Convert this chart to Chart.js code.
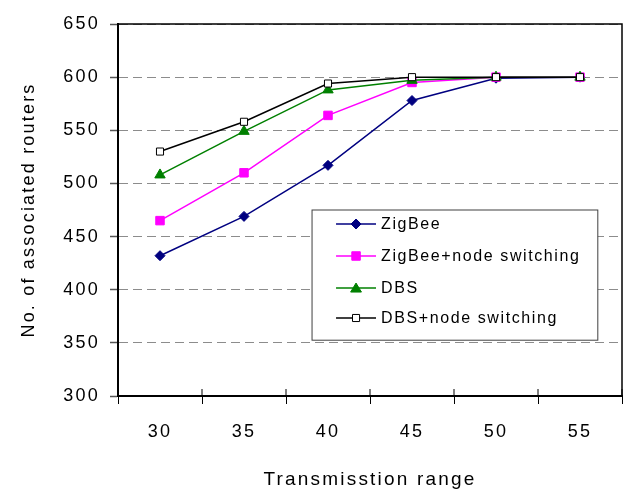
<!DOCTYPE html>
<html>
<head>
<meta charset="utf-8">
<script src="https://cdn.jsdelivr.net/npm/chart.js@4.4.1/dist/chart.umd.min.js"></script>
<style>
    html, body { margin: 0; padding: 0; background: #fff; }
    #wrap { width: 629px; height: 496px; }
</style>
</head>
<body>
<div id="wrap"><canvas id="chart"></canvas></div>
<script>
const ranges = ['30', '35', '40', '45', '50', '55'];
const zigbee = [432, 469, 517, 578, 599, 600];
const zigbeeSwitching = [465, 510, 564, 595, 600, 600];
const dbs = [508, 549, 588, 597, 600, 600];
const dbsSwitching = [530, 558, 594, 600, 600, 600];
const yTicks = [300, 350, 400, 450, 500, 550, 600, 650];

const FONT = "'Liberation Sans', Arial, sans-serif";

// spacing like the wide japanese font of the original
const spacingPlugin = {
    id: 'spacing',
    beforeLayout(chart) { chart.ctx.letterSpacing = '2.2px'; },
    beforeDraw(chart) { chart.ctx.letterSpacing = '2.2px'; }
};

const framePlugin = {
    id: 'frame',
    afterDraw(chart) {
        const ctx = chart.ctx;
        const a = chart.chartArea;
        const xs = chart.scales.x;
        ctx.save();
        ctx.strokeStyle = '#000';
        ctx.lineWidth = 1.5;
        ctx.strokeRect(a.left, a.top, a.right - a.left, a.bottom - a.top);
        // x ticks cross the axis a little
        const step = xs.getPixelForValue(1) - xs.getPixelForValue(0);
        ctx.lineWidth = 1;
        for (let i = 0; i <= ranges.length; i++) {
            const x = xs.getPixelForValue(0) - step / 2 + i * step;
            ctx.beginPath();
            ctx.moveTo(x, a.bottom);
            ctx.lineTo(x, a.bottom - 7);
            ctx.stroke();
        }
        ctx.restore();
    }
};

const legendItems = [
    { text: 'ZigBee', color: '#000080', style: 'rectRot', fill: '#000080', r: 5 },
    { text: 'ZigBee+node switching', color: '#FF00FF', style: 'rect', fill: '#FF00FF', r: 6 },
    { text: 'DBS', color: '#008000', style: 'triangle', fill: '#008000', r: 6 },
    { text: 'DBS+node switching', color: '#000000', style: 'rect', fill: '#FFFFFF', r: 5 }
];

function drawMarker(ctx, style, x, y, r) {
    ctx.beginPath();
    if (style === 'rectRot') {
        ctx.moveTo(x - r, y); ctx.lineTo(x, y - r); ctx.lineTo(x + r, y); ctx.lineTo(x, y + r);
    } else if (style === 'rect') {
        const s = Math.SQRT1_2 * r;
        ctx.rect(x - s, y - s, 2 * s, 2 * s);
    } else {
        const h = r * 1.5;
        ctx.moveTo(x - r * 0.9, y + h * 0.45);
        ctx.lineTo(x, y - h * 0.55);
        ctx.lineTo(x + r * 0.9, y + h * 0.45);
    }
    ctx.closePath();
    ctx.fill();
    ctx.stroke();
}

const boxLegend = {
    id: 'boxLegend',
    afterDraw(chart) {
        const ctx = chart.ctx;
        const a = chart.chartArea;
        const w = a.right - a.left;
        const h = a.bottom - a.top;
        const bx = a.left + w * 0.385;
        const by = a.top + h * 0.50;
        const bw = w * 0.567;
        const bh = h * 0.35;
        ctx.save();
        ctx.fillStyle = '#fff';
        ctx.fillRect(bx, by, bw, bh);
        ctx.strokeStyle = '#404040';
        ctx.lineWidth = 1;
        ctx.strokeRect(bx, by, bw, bh);
        ctx.font = '16px ' + FONT;
        ctx.letterSpacing = '1.6px';
        ctx.textBaseline = 'middle';
        ctx.textAlign = 'left';
        const rows = [14, 46, 78, 108];
        legendItems.forEach((it, i) => {
            const y = by + rows[i];
            ctx.strokeStyle = it.color;
            ctx.lineWidth = 1.5;
            ctx.beginPath();
            ctx.moveTo(bx + 24, y);
            ctx.lineTo(bx + 64, y);
            ctx.stroke();
            ctx.fillStyle = it.fill;
            ctx.lineWidth = 1;
            drawMarker(ctx, it.style, bx + 44, y, it.r);
            ctx.fillStyle = '#000';
            ctx.fillText(it.text, bx + 69, y + 1);
        });
        ctx.restore();
    }
};

function series(label, data, color, style, radius, bg, order) {
    return {
        label: label,
        data: data,
        borderColor: color,
        backgroundColor: bg,
        borderWidth: 1.5,
        pointStyle: style,
        pointRadius: radius,
        pointBorderWidth: 1,
        pointBorderColor: color,
        pointBackgroundColor: bg,
        order: order,
        tension: 0
    };
}

new Chart(document.getElementById('chart'), {
    type: 'line',
    data: {
        labels: ranges,
        datasets: [
            series('ZigBee', zigbee, '#000080', 'rectRot', 5, '#000080', 3),
            series('ZigBee+node switching', zigbeeSwitching, '#FF00FF', 'rect', 6, '#FF00FF', 2),
            series('DBS', dbs, '#008000', 'triangle', 6, '#008000', 1),
            series('DBS+node switching', dbsSwitching, '#000000', 'rect', 5, '#FFFFFF', 0)
        ]
    },
    options: {
        responsive: true,
        maintainAspectRatio: false,
        animation: false,
        layout: { padding: { top: 24, right: 6, left: 0, bottom: 0 } },
        plugins: {
            legend: { display: false },
            tooltip: { enabled: false }
        },
        scales: {
            x: {
                offset: true,
                grid: {
                    offset: true,
                    drawOnChartArea: false,
                    tickLength: 8,
                    tickColor: '#000',
                    tickWidth: 1
                },
                border: { color: '#000', width: 2 },
                ticks: { color: '#000', padding: 17, font: { family: FONT, size: 18 } },
                title: {
                    display: true,
                    text: 'Transmisstion range',
                    color: '#000',
                    font: { family: FONT, size: 19 },
                    padding: { top: 0, bottom: 5 }
                },
                afterFit(scale) { scale.height = 100; }
            },
            y: {
                min: 300,
                max: 650,
                afterBuildTicks(scale) { scale.ticks = yTicks.map(v => ({ value: v })); },
                grid: {
                    color: '#8c8c8c',
                    lineWidth: 1,
                    tickLength: 8,
                    tickColor: '#555',
                    tickWidth: 1.5,
                    tickBorderDash: []
                },
                border: { color: '#000', width: 2, dash: [9, 5] },
                ticks: { color: '#000', padding: 10, font: { family: FONT, size: 18 } },
                title: {
                    display: true,
                    text: 'No. of associated routers',
                    color: '#000',
                    font: { family: FONT, size: 18 },
                    padding: { top: 18, bottom: 0 }
                },
                afterFit(scale) { scale.width = 118; }
            }
        }
    },
    plugins: [spacingPlugin, framePlugin, boxLegend]
});
</script>
</body>
</html>
